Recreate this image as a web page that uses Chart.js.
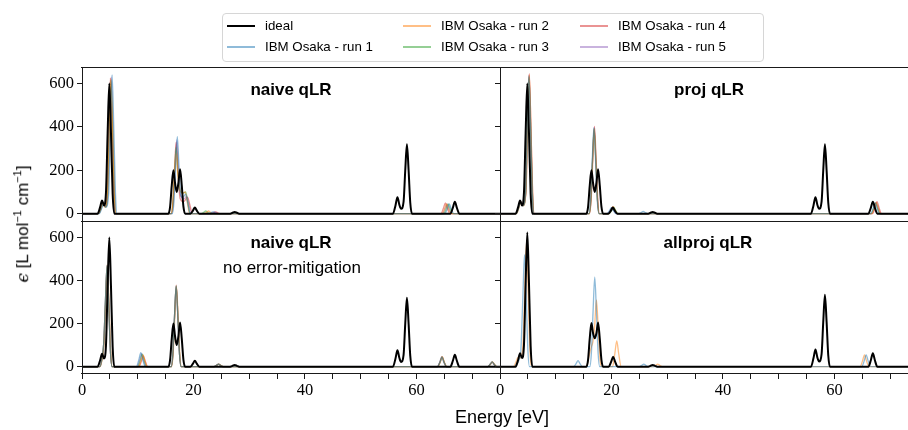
<!DOCTYPE html>
<html><head><meta charset="utf-8">
<script src="https://cdn.jsdelivr.net/npm/chart.js@4.4.1/dist/chart.umd.min.js"></script>
<style>
html,body{margin:0;padding:0;background:#fff;overflow:hidden;width:908px;height:430px;}
#wrap{position:relative;width:908px;height:430px;overflow:hidden;}
canvas{position:absolute;}
.ttl{position:absolute;font-family:"Liberation Sans",Arial,sans-serif;font-weight:bold;font-size:17px;color:#000;transform:translate(-50%,-50%);white-space:nowrap;}
.sub{position:absolute;font-family:"Liberation Sans",Arial,sans-serif;font-size:17px;color:#000;transform:translate(-50%,-50%);white-space:nowrap;}
#legend{position:absolute;left:222px;top:13px;width:540px;height:47px;border:1px solid #d6d6d6;border-radius:4px;background:rgba(255,255,255,0.8);}
.li{position:absolute;font-family:"Liberation Sans",Arial,sans-serif;font-size:13.3px;color:#000;white-space:nowrap;line-height:16px;}
.lh{position:absolute;width:28px;}
#xlab{position:absolute;left:502px;top:417px;transform:translate(-50%,-50%);font-family:"Liberation Sans",Arial,sans-serif;font-size:18px;white-space:nowrap;}
#ylab{position:absolute;left:22px;top:224px;transform:translate(-50%,-50%) rotate(-90deg);font-family:"Liberation Sans",Arial,sans-serif;font-size:17px;white-space:nowrap;}
#ylab sup{font-size:11px;}
#ylab .eps{font-family:"DejaVu Serif",serif;font-style:italic;}
</style></head><body>
<div id="wrap">
<canvas id="tl" width="500" height="221" style="left:0;top:0"></canvas>
<canvas id="bl" width="500" height="209" style="left:0;top:221px"></canvas>
<canvas id="tr" width="418" height="221" style="left:490px;top:0"></canvas>
<canvas id="br" width="418" height="209" style="left:490px;top:221px"></canvas>
<div id="legend"></div>
<div class="ttl" style="left:291px;top:90px">naive qLR</div>
<div class="ttl" style="left:709px;top:90px">proj qLR</div>
<div class="ttl" style="left:291px;top:243px">naive qLR</div>
<div class="sub" style="left:292px;top:268px">no error-mitigation</div>
<div class="ttl" style="left:708px;top:243px">allproj qLR</div>
<div id="xlab">Energy [eV]</div>
<div id="ylab"><span class="eps">ϵ</span> [L mol<sup>−1</sup> cm<sup>−1</sup>]</div>
</div>
<script>
// ---------- series labels & colours ----------
const seriesLabels = ["ideal","IBM Osaka - run 1","IBM Osaka - run 2","IBM Osaka - run 3","IBM Osaka - run 4","IBM Osaka - run 5"];
const seriesColors = ["#000000","rgba(31,119,180,0.5)","rgba(255,127,14,0.5)","rgba(44,160,44,0.5)","rgba(214,39,40,0.5)","rgba(148,103,189,0.5)"];
const seriesWidths = [2, 1.3, 1.3, 1.3, 1.3, 1.3];

// ---------- axis ticks ----------
const xTickLabels = [0, 20, 40, 60];
const yTickValues = [0, 200, 400, 600];

// ---------- ideal spectra [energy eV, epsilon] ----------
const idealStd = [[0,0],[2.8,0],[3.25,30],[3.6,60],[3.95,38],[4.3,97],[4.6,372],[4.9,600],[5.2,372],[5.5,92],[5.8,0],
 [15.5,0],[15.8,30],[16.1,128],[16.4,200],[16.7,140],[17.0,100],[17.3,142],[17.6,205],[17.9,130],[18.2,32],[18.5,0],
 [19.45,0],[19.9,14],[20.25,28],[20.6,14],[21.05,0],
 [26.6,0],[27.0,4],[27.4,8],[27.8,4],[28.2,0],
 [55.8,0],[56.25,38],[56.6,76],[56.95,40],[57.25,22],[57.7,55],[58.0,200],[58.3,320],[58.6,200],[58.9,50],[59.2,0],
 [66.1,0],[66.55,28],[66.9,55],[67.25,28],[67.7,0],[75,0]];
const idealAllproj = [[0,0],[2.8,0],[3.25,31],[3.6,62],[3.95,40],[4.3,100],[4.6,386],[4.9,623],[5.2,386],[5.5,95],[5.8,0],
 [15.5,0],[15.8,32],[16.1,130],[16.4,203],[16.7,155],[17.0,132],[17.3,155],[17.6,205],[17.9,130],[18.2,32],[18.5,0],
 [19.5,0],[19.95,23],[20.3,46],[20.65,23],[21.1,0],
 [26.6,0],[27.0,4],[27.4,8],[27.8,4],[28.2,0],
 [55.8,0],[56.25,40],[56.6,80],[56.95,42],[57.25,24],[57.7,58],[58.0,208],[58.3,334],[58.6,208],[58.9,52],[59.2,0],
 [66.1,0],[66.55,31],[66.9,62],[67.25,31],[67.7,0],[75,0]];

// ---------- naive qLR ----------
const naiveRun1 = [[0,0],[3.1,0],[3.55,25],[3.9,50],[4.3,30],[4.8,99],[5.1,397],[5.4,640],[5.7,397],[6.0,99],[6.3,0],
 [16.2,0],[16.5,55],[16.8,220],[17.1,355],[17.4,220],[17.7,85],[18.1,75],[18.6,90],[19.0,45],[19.4,0],
 [22.7,0],[23.1,4],[23.5,8],[23.9,4],[24.3,0],
 [65.1,0],[65.55,22],[65.9,45],[66.25,22],[66.7,0],[75,0]];
const naiveRun2 = [[0,0],[3.0,0],[3.45,25],[3.8,50],[4.2,30],[4.6,95],[4.9,385],[5.2,620],[5.5,385],[5.8,95],[6.1,0],
 [16.0,0],[16.3,45],[16.6,175],[16.9,280],[17.2,180],[17.6,110],[18.1,95],[18.5,100],[18.9,50],[19.3,0],
 [21.9,0],[22.35,6],[22.7,12],[23.05,6],[23.5,0],
 [64.6,0],[65.05,22],[65.4,45],[65.75,22],[66.2,0],[75,0]];
const naiveRun3 = [[0,0],[3.0,0],[3.45,25],[3.8,50],[4.2,30],[4.6,95],[4.9,381],[5.2,615],[5.5,381],[5.8,95],[6.1,0],
 [16.0,0],[16.3,47],[16.6,190],[16.9,305],[17.2,190],[17.6,105],[18.2,95],[18.6,100],[19.0,50],[19.4,0],
 [21.4,0],[21.85,6],[22.2,12],[22.55,6],[23.0,0],
 [64.9,0],[65.35,22],[65.7,45],[66.05,22],[66.5,0],[75,0]];
const naiveRun4 = [[0,0],[2.9,0],[3.35,27],[3.7,55],[4.1,32],[4.5,96],[4.8,388],[5.1,625],[5.4,388],[5.7,96],[6.0,0],
 [16.0,0],[16.3,50],[16.6,205],[16.9,330],[17.2,205],[17.6,70],[18.2,55],[18.95,75],[19.4,35],[19.8,0],
 [23.2,0],[23.65,4],[24.0,8],[24.35,4],[24.8,0],
 [64.4,0],[64.85,25],[65.2,50],[65.55,25],[66.0,0],[75,0]];
const naiveRun5 = [[0,0],[3.0,0],[3.45,25],[3.8,50],[4.2,30],[4.65,97],[4.95,390],[5.25,630],[5.55,390],[5.85,97],[6.15,0],
 [16.1,0],[16.4,52],[16.7,210],[17.0,340],[17.3,210],[17.7,80],[18.3,68],[18.8,80],[19.2,40],[19.6,0],
 [23.0,0],[23.45,4],[23.8,8],[24.15,4],[24.6,0],
 [64.7,0],[65.15,22],[65.5,45],[65.85,22],[66.3,0],[75,0]];

// ---------- proj qLR ----------
const projRun1 = [[0,0],[2.9,0],[3.35,27],[3.7,55],[4.1,36],[4.6,98],[4.9,394],[5.2,635],[5.5,394],[5.8,98],[6.1,0],
 [15.95,0],[16.25,61],[16.55,245],[16.85,395],[17.15,245],[17.45,61],[17.75,0],
 [19.2,0],[19.65,14],[20.0,28],[20.35,14],[20.8,0],
 [24.9,0],[25.35,5],[25.7,10],[26.05,5],[26.5,0],
 [66.5,0],[66.95,25],[67.3,50],[67.65,25],[68.1,0],[75,0]];
const projRun2 = [[0,0],[2.95,0],[3.4,27],[3.75,55],[4.15,36],[4.65,99],[4.95,397],[5.25,640],[5.55,397],[5.85,99],[6.15,0],
 [16.0,0],[16.3,60],[16.6,242],[16.9,390],[17.2,242],[17.5,60],[17.8,0],
 [19.5,0],[19.95,16],[20.3,32],[20.65,16],[21.1,0],
 [66.7,0],[67.15,26],[67.5,52],[67.85,26],[68.3,0],[75,0]];
const projRun3 = [[0,0],[2.9,0],[3.35,27],[3.7,55],[4.1,36],[4.6,97],[4.9,391],[5.2,630],[5.5,391],[5.8,97],[6.1,0],
 [16.0,0],[16.3,60],[16.6,243],[16.9,392],[17.2,243],[17.5,60],[17.8,0],
 [19.6,0],[20.05,15],[20.4,30],[20.75,15],[21.2,0],
 [66.6,0],[67.05,25],[67.4,50],[67.75,25],[68.2,0],[75,0]];
const projRun4 = [[0,0],[2.85,0],[3.3,29],[3.65,58],[4.05,37],[4.65,99],[4.95,400],[5.25,645],[5.55,400],[5.85,99],[6.15,0],
 [16.05,0],[16.35,62],[16.65,249],[16.95,402],[17.25,249],[17.55,62],[17.85,0],
 [19.4,0],[19.85,15],[20.2,30],[20.55,15],[21.0,0],
 [66.85,0],[67.3,28],[67.65,55],[68.0,28],[68.45,0],[75,0]];
const projRun5 = [[0,0],[2.9,0],[3.35,27],[3.7,55],[4.1,36],[4.6,98],[4.9,396],[5.2,638],[5.5,396],[5.8,98],[6.1,0],
 [16.0,0],[16.3,61],[16.6,247],[16.9,398],[17.2,247],[17.5,61],[17.8,0],
 [19.3,0],[19.75,14],[20.1,28],[20.45,14],[20.9,0],
 [66.7,0],[67.15,26],[67.5,52],[67.85,26],[68.3,0],[75,0]];

// ---------- naive qLR, no error mitigation ----------
const noemRun1 = [[0,0],[3.2,0],[3.6,40],[3.9,108],[4.2,298],[4.5,468],[4.8,290],[5.1,72],[5.4,0],
 [9.75,0],[10.2,32],[10.55,65],[10.9,32],[11.35,0],
 [16.0,0],[16.3,57],[16.6,231],[16.9,372],[17.2,231],[17.5,57],[17.8,0],
 [23.7,0],[24.15,6],[24.5,12],[24.85,6],[25.3,0],
 [63.8,0],[64.25,22],[64.6,44],[64.95,22],[65.4,0],
 [72.8,0],[73.25,11],[73.6,22],[73.95,11],[74.4,0],[75,0]];
const noemRun2 = [[0,0],[3.25,0],[3.65,40],[3.95,107],[4.25,295],[4.55,465],[4.85,287],[5.15,72],[5.45,0],
 [10.15,0],[10.6,27],[10.95,55],[11.3,27],[11.75,0],
 [16.05,0],[16.35,57],[16.65,229],[16.95,370],[17.25,229],[17.55,57],[17.85,0],
 [23.75,0],[24.2,6],[24.55,12],[24.9,6],[25.35,0],
 [63.85,0],[64.3,22],[64.65,45],[65.0,22],[65.45,0],
 [72.85,0],[73.3,11],[73.65,22],[74.0,11],[74.45,0],[75,0]];
const noemRun3 = [[0,0],[3.2,0],[3.6,40],[3.9,108],[4.2,300],[4.5,470],[4.8,291],[5.1,72],[5.4,0],
 [10.0,0],[10.45,29],[10.8,58],[11.15,29],[11.6,0],
 [16.0,0],[16.3,58],[16.6,233],[16.9,375],[17.2,233],[17.5,58],[17.8,0],
 [23.7,0],[24.15,6],[24.5,12],[24.85,6],[25.3,0],
 [63.8,0],[64.25,22],[64.6,45],[64.95,22],[65.4,0],
 [72.8,0],[73.25,11],[73.6,22],[73.95,11],[74.4,0],[75,0]];
const noemRun4 = [[0,0],[3.2,0],[3.6,41],[3.9,109],[4.2,301],[4.5,472],[4.8,293],[5.1,73],[5.4,0],
 [10.2,0],[10.65,25],[11.0,50],[11.35,25],[11.8,0],
 [16.0,0],[16.3,58],[16.6,234],[16.9,378],[17.2,234],[17.5,58],[17.8,0],
 [23.7,0],[24.15,6],[24.5,12],[24.85,6],[25.3,0],
 [63.8,0],[64.25,23],[64.6,46],[64.95,23],[65.4,0],
 [72.8,0],[73.25,11],[73.6,22],[73.95,11],[74.4,0],[75,0]];
const noemRun5 = [[0,0],[3.2,0],[3.6,40],[3.9,108],[4.2,298],[4.5,468],[4.8,290],[5.1,72],[5.4,0],
 [9.9,0],[10.35,30],[10.7,60],[11.05,30],[11.5,0],
 [16.0,0],[16.3,57],[16.6,232],[16.9,374],[17.2,232],[17.5,57],[17.8,0],
 [23.65,0],[24.1,6],[24.45,12],[24.8,6],[25.25,0],
 [63.75,0],[64.2,22],[64.55,45],[64.9,22],[65.35,0],
 [72.75,0],[73.2,10],[73.55,21],[73.9,10],[74.35,0],[75,0]];

// ---------- allproj qLR ----------
const allprojRun1 = [[0,0],[2.6,0],[3.0,15],[3.4,30],[3.75,80],[4.1,322],[4.4,520],[4.7,322],[5.0,80],[5.3,0],
 [13.2,0],[13.65,14],[14.0,28],[14.35,14],[14.8,0],
 [16.1,0],[16.4,64],[16.7,257],[17.0,415],[17.3,257],[17.6,64],[17.9,0],
 [25.0,0],[25.45,6],[25.8,12],[26.15,6],[26.6,0],
 [64.9,0],[65.35,27],[65.7,55],[66.05,27],[66.5,0],[75,0]];
const allprojRun2 = [[0,0],[2.4,0],[2.85,20],[3.2,42],[3.6,40],[4.1,95],[4.45,355],[4.75,575],[5.05,355],[5.35,88],[5.65,0],
 [15.5,0],[15.9,40],[16.3,85],[16.7,120],[17.0,195],[17.3,310],[17.6,192],[17.9,48],[18.2,0],
 [20.2,0],[20.6,60],[20.95,120],[21.3,60],[21.75,0],
 [27.5,0],[27.95,6],[28.3,12],[28.65,6],[29.1,0],
 [64.6,0],[65.05,27],[65.4,55],[65.75,27],[66.2,0],[75,0]];
const allprojRun3 = [];
const allprojRun4 = [];
const allprojRun5 = [];

// ---------- drawing ----------
const framePlugin = {
  id: 'frame',
  afterDraw(chart, args, o) {
    const {ctx, chartArea: a} = chart;
    const L = Math.round(a.left) + 0.5, T = Math.round(a.top) + 0.5;
    const R = Math.round(a.right) - 0.5, B = Math.round(a.bottom) - 0.5;
    ctx.save();
    ctx.strokeStyle = '#1a1a1a'; ctx.lineWidth = 1;
    ctx.beginPath();
    if (o.top) { ctx.moveTo(a.left - 1, T); ctx.lineTo(a.right, T); }
    if (o.bottom) { ctx.moveTo(a.left - 1, B); ctx.lineTo(a.right, B); }
    if (o.left) { ctx.moveTo(L, a.top); ctx.lineTo(L, a.bottom); }
    ctx.stroke();
    ctx.restore();
  }
};

function panel(id, series, cfg) {
  const datasets = series.map((d, i) => ({
    label: seriesLabels[i], data: d, borderColor: seriesColors[i], borderWidth: seriesWidths[i],
    pointRadius: 0, fill: false, cubicInterpolationMode: 'monotone', tension: 0.4
  }));
  new Chart(document.getElementById(id), {
    type: 'line',
    data: {datasets},
    options: {
      responsive: false, animation: false, events: [],
      layout: {padding: {top: cfg.padTop, left: 0, right: 0, bottom: 0}},
      plugins: {legend: {display: false}, tooltip: {enabled: false}, frame: cfg.frame},
      scales: {
        x: {
          type: 'linear', min: 0, max: cfg.xmax, display: cfg.showX,
          ticks: {stepSize: 5, autoSkip: false, maxRotation: 0, minRotation: 0, includeBounds: false, padding: 2,
            color: '#000', font: {family: '"Liberation Serif", serif', size: 16.5},
            callback: v => xTickLabels.includes(v) ? String(v) : ''},
          grid: {display: true, drawOnChartArea: false, drawTicks: true, tickLength: 5, color: '#1a1a1a', lineWidth: 1},
          border: {display: false},
          afterFit: s => { if (cfg.showX) { s.height = 56; } else { s.height = 0; } s.paddingLeft = 0; s.paddingRight = 0; }
        },
        y: {
          type: 'linear', min: -34, max: 676,
          afterBuildTicks: s => { s.ticks = yTickValues.map(v => ({value: v})); },
          ticks: {display: cfg.showY, padding: 3, color: '#000', font: {family: '"Liberation Serif", serif', size: 16.5}},
          grid: {display: true, drawOnChartArea: false, drawTicks: true, tickLength: 5, color: '#1a1a1a', lineWidth: 1},
          border: {display: false},
          afterFit: s => { s.width = cfg.yW; s.paddingTop = 0; s.paddingBottom = 0; }
        }
      }
    },
    plugins: [framePlugin]
  });
}

panel('tl', [idealStd, naiveRun1, naiveRun2, naiveRun3, naiveRun4, naiveRun5],
  {padTop: 67, xmax: 75, showX: false, showY: true, yW: 82, frame: {top: true, left: true}});
panel('bl', [idealStd, noemRun1, noemRun2, noemRun3, noemRun4, noemRun5],
  {padTop: 0, xmax: 75, showX: true, showY: true, yW: 82, frame: {top: true, left: true, bottom: true}});
panel('tr', [idealStd, projRun1, projRun2, projRun3, projRun4, projRun5],
  {padTop: 67, xmax: 408 / (418 / 75), showX: false, showY: false, yW: 10, frame: {top: true, left: true}});
panel('br', [idealAllproj, allprojRun1, allprojRun2, allprojRun3, allprojRun4, allprojRun5],
  {padTop: 0, xmax: 408 / (418 / 75), showX: true, showY: false, yW: 10, frame: {top: true, left: true, bottom: true}});

// ---------- legend (3 columns, column-major) ----------
const leg = document.getElementById('wrap');
const colX = [227, 403, 580], rowY = [26, 47];
seriesLabels.forEach((lab, i) => {
  const c = Math.floor(i / 2), r = i % 2;
  const h = document.createElement('div');
  h.className = 'lh';
  h.style.left = colX[c] + 'px';
  h.style.top = (rowY[r] - seriesWidths[i] / 2) + 'px';
  h.style.height = seriesWidths[i] + 'px';
  h.style.background = seriesColors[i];
  leg.appendChild(h);
  const t = document.createElement('div');
  t.className = 'li';
  t.style.left = (colX[c] + 38) + 'px';
  t.style.top = (rowY[r] - 8) + 'px';
  t.textContent = lab;
  leg.appendChild(t);
});
</script>
</body></html>
